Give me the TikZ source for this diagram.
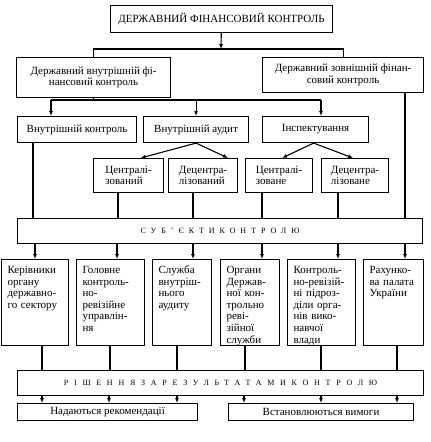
\documentclass[tikz,border=0pt]{standalone}
\usepackage{fontspec}
\setmainfont{Liberation Serif}
\usetikzlibrary{positioning,arrows.meta}
\tikzset{
  blk/.style ={draw,line width=1.1pt,font=\fontsize{11}{11.6}\selectfont,
               inner sep=3pt,anchor=north west},
  wide/.style={blk,font=\fontsize{8}{9}\selectfont\addfontfeature{LetterSpace=#1}},
  col/.style ={blk,align=left,text width=#1,text height=8pt,text depth=66pt,
               inner xsep=6pt,inner ysep=6pt},
  arr/.style ={-{Latex[length=5pt,width=4pt]},line width=1.1pt},
  ln/.style  ={line width=1.1pt},
}

\begin{document}
\begin{tikzpicture}[x=1pt,y=-1pt]
 \useasboundingbox (0,0) rectangle (431,442);
 % top levels
 \node[blk,minimum width=222pt,minimum height=27pt] (dfk) at (110,5) {ДЕРЖАВНИЙ ФІНАНСОВИЙ КОНТРОЛЬ};
 \node[blk,align=center,minimum width=154pt,minimum height=40pt] (dvfk) at (16,57) {Державний внутрішній фі-\\нансовий контроль};
 \node[blk,align=center,minimum width=161pt,minimum height=35pt] (dzfk) at (262,57) {Державний зовнішній фінан-\\совий контроль};
 \coordinate (j1) at (221,49);
 \draw[arr] (dfk) -- (j1);
 \draw[ln] (dvfk.north) |- (j1) -| (dzfk.north);
 % forms of internal control
 \node[blk,minimum width=119pt,minimum height=26pt] (vk) at (17,116) {Внутрішній контроль};
 \node[blk,minimum width=105pt,minimum height=26pt] (va) at (143,116) {Внутрішній аудит};
 \node[blk,minimum width=106pt,minimum height=26pt] (insp) at (262,116) {Інспектування};
 \coordinate (j2) at (93,100);
 \coordinate (a1) at (51,100);
 \coordinate (a3) at (321,100);
 \draw[ln] (dvfk.south) -- (j2);
 \draw[ln] (a1) -- (a3);
 \draw[arr] (a1) -- (a1 |- vk.north);
 \draw[arr] (va.north |- a1) -- (va);
 \draw[arr] (a3) -- (a3 |- insp.north);
 \node[blk,align=left,minimum width=70pt,minimum height=34pt] (c1) at (93,158) {Централі-\\зований};
 \node[blk,align=left,minimum width=69pt,minimum height=34pt] (d1) at (168,158) {Децентра-\\лізований};
 \node[blk,align=left,minimum width=67pt,minimum height=34pt] (c2) at (245,158) {Централі-\\зоване};
 \node[blk,align=left,minimum width=67pt,minimum height=34pt] (d2) at (321,158) {Децентра-\\лізоване};
 \draw[arr] (va.south) -- ([xshift=12pt]c1.north);
 \draw[arr] (va.south) -- ([xshift=25pt]d1.north);
 \draw[arr] ([xshift=-2pt]insp.south) -- ([xshift=3pt]c2.north);
 \draw[arr] ([xshift=-2pt]insp.south) -- ([xshift=-2pt]d2.north);
 % subjects
 \node[wide=62,minimum width=405pt,minimum height=25pt] (sub) at (17,218) {СУБ’ЄКТИКОНТРОЛЮ};
 \foreach \x/\n in {33/vk,118/c1,193/d1,262/c2,338/d2,405/dzfk}
   \draw[ln] (\x,0 |- \n.south) -- (\x,0 |- sub.north);
 \node[col=55pt] (b1) at (1,259) {Керівники\\органу\\державно-\\го сектору};
 \node[col=56pt] (b2) at (76,259) {Головне\\контроль-\\но-\\ревізійне\\управлін-\\ня};
 \node[col=47pt] (b3) at (152,259) {Служба\\внутріш-\\нього\\аудиту};
 \node[col=47pt] (b4) at (220,259) {Органи\\Держав-\\ної кон-\\трольно\\реві-\\зійної\\служби};
 \node[col=56pt] (b5) at (287,259) {Контроль-\\но-ревізій-\\ні підроз-\\діли орга-\\нів вико-\\навчої\\влади};
 \node[col=48pt] (b6) at (363,259) {Рахунко-\\ва палата\\України};
 \foreach \x/\n in {35/b1,117/b2,193/b3,262/b4,338/b5,405/b6}
   \draw[arr] (\x,0 |- sub.south) -- (\x,0 |- \n.north);
 % decisions
 \node[wide=72,minimum width=406pt,minimum height=25pt] (ris) at (17,370) {РІШЕННЯЗАРЕЗУЛЬТАТАМИКОНТРОЛЮ};
 \foreach \x/\n in {42/b1,110/b2,177/b3,245/b4,321/b5,397/b6}
   \draw[ln] (\x,0 |- \n.south) -- (\x,0 |- ris.north);
 \node[blk,minimum width=180pt,minimum height=17pt] (nad) at (17,403) {Надаються рекомендації};
 \node[blk,minimum width=185pt,minimum height=17pt] (vst) at (228,403) {Встановлюються вимоги};
 \foreach \x/\n in {42/nad,109/nad,177/nad,244/vst,321/vst,397/vst}
   \draw[arr] (\x,0 |- ris.south) -- (\x,0 |- \n.north);
\end{tikzpicture}
\end{document}
